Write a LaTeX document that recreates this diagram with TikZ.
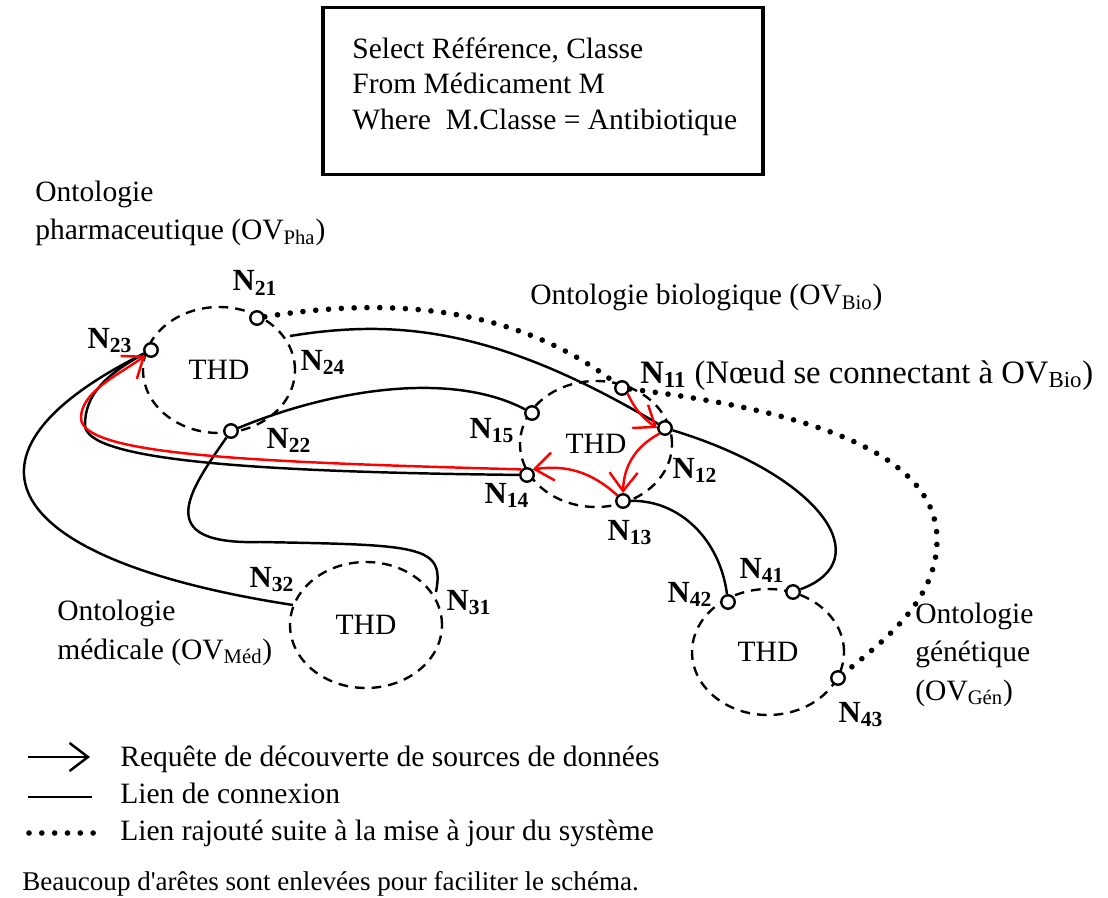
\documentclass[tikz,border=0pt]{standalone}
\usepackage{fontspec}
\setmainfont{Liberation Serif}
\usetikzlibrary{shapes.geometric,arrows.meta}

\begin{document}
\begin{tikzpicture}[
            x=0.02cm, y=-0.02cm,
            font=\fontsize{16.8}{20.5}\selectfont,
            thd/.style={ellipse, draw, line width=1.35pt, dash pattern=on 5.5pt off 4pt, minimum width=3.04cm, minimum height=2.52cm, inner sep=0pt},
            peer/.style={circle, draw, fill=white, line width=1.35pt, minimum size=0.27cm, inner sep=0pt},
            nlabel/.style={font=\fontsize{17.5}{20.5}\selectfont\bfseries, inner sep=0pt, anchor=base},
            onto/.style={align=left, inner sep=0pt, anchor=base west, font=\fontsize{16.8}{21.8}\selectfont},
            link/.style={line width=1.4pt},
            arrow/.style={-{Straight Barb[length=10.5pt,width=16pt]}},
            query/.style={link, arrow, red},
            added/.style={line width=3.2pt, line cap=round, dash pattern=on 0pt off 7.3pt}
        ]
            \useasboundingbox (0,0) rectangle (1108,898);

            \node[draw, line width=1.8pt, minimum width=8.8cm, minimum height=3.34cm] (sqlbox) at (543,91) {};
            \node[anchor=north west, align=left, inner sep=0pt, font=\fontsize{16.8}{20.2}\selectfont] (sql) at (352,37) {Select Référence, Classe\\From Médicament M\\Where~~M.Classe = Antibiotique};

            \node[onto] (pha) at (35,240) {Ontologie\\pharmaceutique (OV\textsubscript{Pha})};
            \node[onto] (bio) at (530,305) {Ontologie biologique (OV\textsubscript{Bio})};
            \node[onto] (med) at (57,659) {Ontologie\\médicale (OV\textsubscript{Méd})};
            \node[onto] (gen) at (915,700) {Ontologie\\génétique\\(OV\textsubscript{Gén})};

            \node[thd] (thdpha) at (219,370) {THD};
            \node[thd] (thdbio) at (596,444) {THD};
            \node[thd] (thdmed) at (366,625) {THD};
            \node[thd] (thdgen) at (768,652) {THD};

            \node[peer] (n21) at (257,318) {};
            \node[peer] (n23) at (151,350) {};
            \node[peer] (n22) at (231,431) {};
            \coordinate (n24) at (290,336);
            \node[peer] (n11) at (622,388) {};
            \node[peer] (n12) at (665,428) {};
            \node[peer] (n13) at (623,501) {};
            \node[peer] (n14) at (527,475) {};
            \node[peer] (n15) at (532,413) {};
            \coordinate (n32) at (293,605);
            \coordinate (n31) at (436,592);
            \node[peer] (n41) at (793,592) {};
            \node[peer] (n42) at (728,602) {};
            \node[peer] (n43) at (838,678) {};

            \node[nlabel] (l21) at (255,291) {N\textsubscript{21}};
            \node[nlabel] (l23) at (110,348) {N\textsubscript{23}};
            \node[nlabel] (l24) at (323,370) {N\textsubscript{24}};
            \node[nlabel] (l22) at (289,448) {N\textsubscript{22}};
            \node[anchor=base west, inner sep=0pt, font=\fontsize{18.6}{22}\selectfont] (l11) at (640,383) {\textbf{N\textsubscript{11}} (Nœud se connectant à OV\textsubscript{Bio})};
            \node[nlabel] (l15) at (492,438) {N\textsubscript{15}};
            \node[nlabel] (l12) at (695,478) {N\textsubscript{12}};
            \node[nlabel] (l14) at (507,503) {N\textsubscript{14}};
            \node[nlabel] (l13) at (630,540) {N\textsubscript{13}};
            \node[nlabel] (l32) at (272,587) {N\textsubscript{32}};
            \node[nlabel] (l31) at (469,610) {N\textsubscript{31}};
            \node[nlabel] (l42) at (690,602) {N\textsubscript{42}};
            \node[nlabel] (l41) at (762,578) {N\textsubscript{41}};
            \node[nlabel] (l43) at (861,722) {N\textsubscript{43}};

            \draw[added] (n21) .. controls (400,295) and (520,310) .. (n11);
            \draw[added] (n11) .. controls (800,410) and (937,450) .. (937,540) .. controls (937,600) and (885,640) .. (n43);

            \draw[link] (n24) .. controls (400,318) and (500,330) .. (n12);
            \draw[link] (n12) .. controls (820,475) and (880,560) .. (n41);
            \draw[link] (n22) .. controls (330,390) and (450,370) .. (n15);
            \draw[link] (n23) .. controls (-60,455) and (0,560) .. (n32);
            \draw[link] (n23) .. controls (105,375) and (85,395) .. (85,425) .. controls (85,460) and (250,472) .. (n14);
            \draw[link] (n22) .. controls (190,490) and (150,545) .. (260,542) .. controls (420,545) and (445,545) .. (n31);
            \draw[link] (n13) .. controls (680,500) and (720,540) .. (n42);

            \draw[query] (n11.south east) to[bend right=15] (n12.west);
            \draw[query] (n12.south west) to[bend right=30] (n13.north);
            \draw[query] (n13.north west) to[bend right=25] (n14.north east);
            \draw[query] (n14.north west) .. controls (250,462) and (81,455) .. (81,418) .. controls (81,392) and (118,375) .. (n23.south west);

            \coordinate (lga1) at (28,757);
            \coordinate (lga2) at (90,757);
            \coordinate (lgb1) at (28,797);
            \coordinate (lgb2) at (92,797);
            \coordinate (lgc1) at (29,833);
            \coordinate (lgc2) at (96,833);
            \draw[link, arrow] (lga1) -- (lga2);
            \draw[link] (lgb1) -- (lgb2);
            \draw[added] (lgc1) -- (lgc2);
            \node[anchor=base west, inner sep=0pt] (lgreq) at (120,766) {Requête de découverte de sources de données};
            \node[anchor=base west, inner sep=0pt] (lglink) at (120,803) {Lien de connexion};
            \node[anchor=base west, inner sep=0pt] (lgadded) at (120,840) {Lien rajouté suite à la mise à jour du système};
            \node[anchor=base west, inner sep=0pt, font=\fontsize{15.4}{18}\selectfont] (note) at (22,890) {Beaucoup d\textquotesingle arêtes sont enlevées pour faciliter le schéma.};
        \end{tikzpicture}
\end{document}
